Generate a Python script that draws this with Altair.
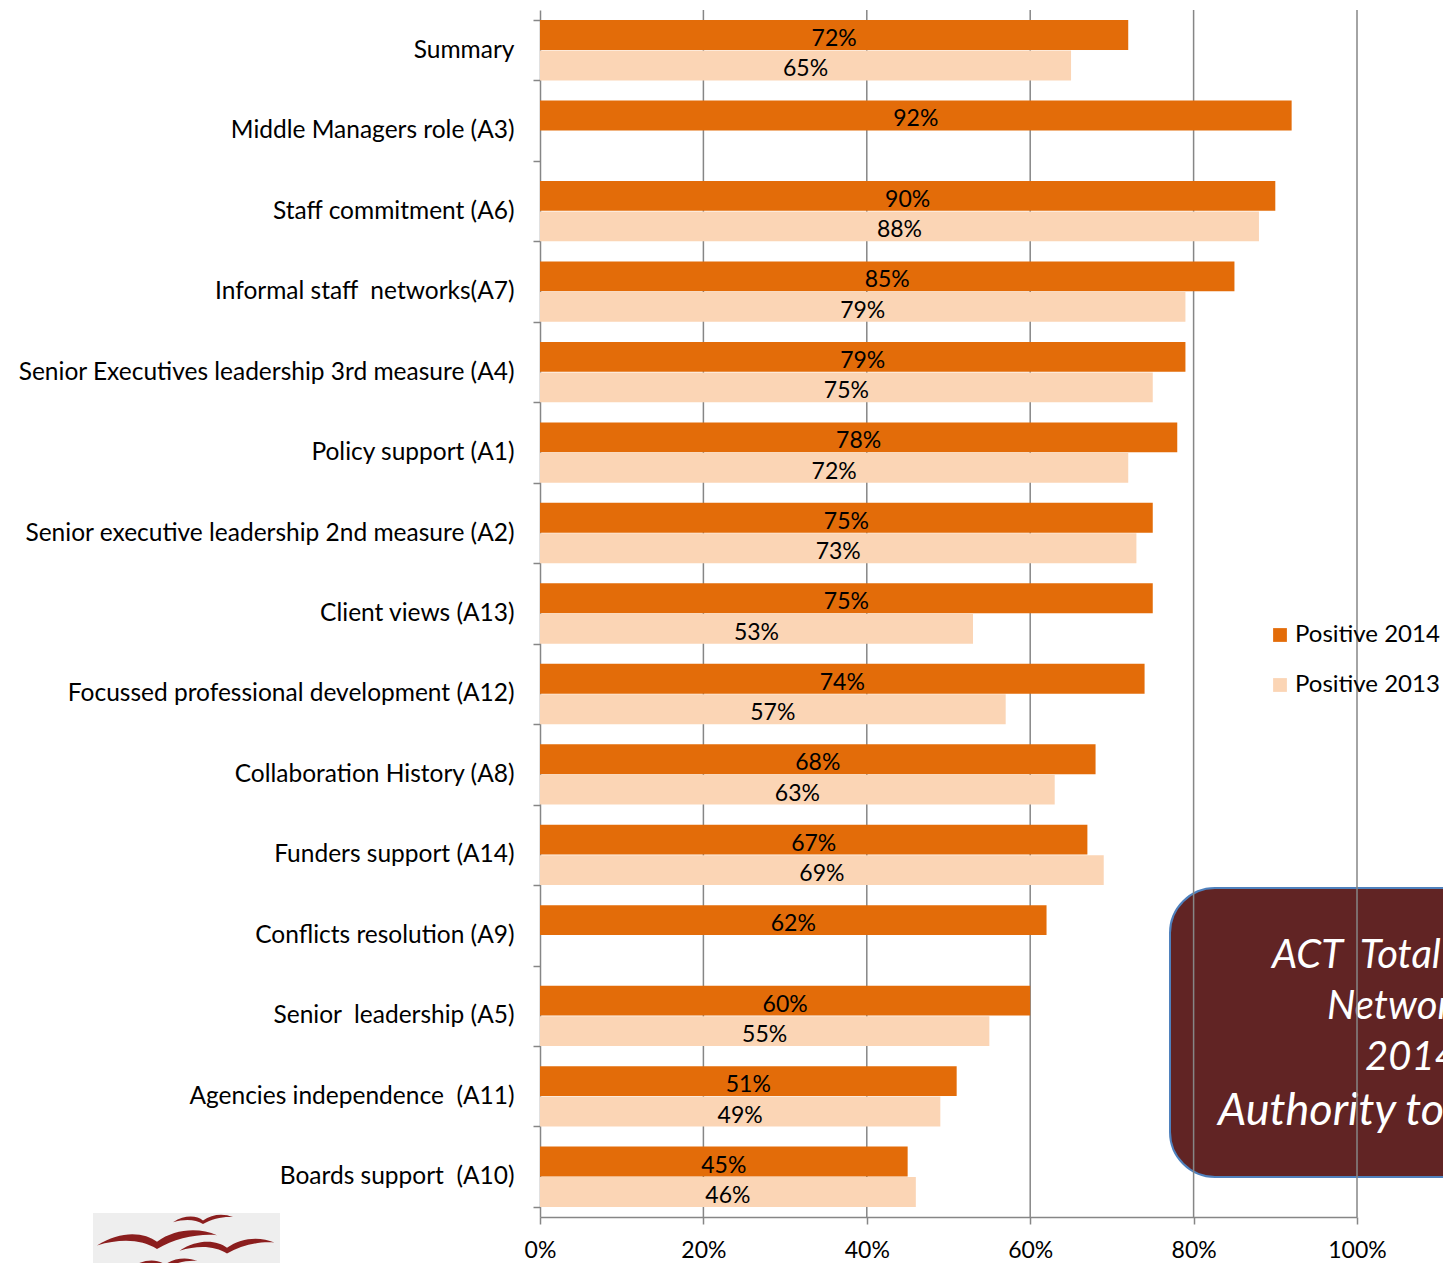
import altair as alt
import pandas as pd

NB = "\u00a0"
categories = [
    "Summary",
    "Middle Managers role (A3)",
    "Staff commitment (A6)",
    "Informal staff " + NB + "networks(A7)",
    "Senior Executives leadership 3rd measure (A4)",
    "Policy support (A1)",
    "Senior executive leadership 2nd measure (A2)",
    "Client views (A13)",
    "Focussed professional development (A12)",
    "Collaboration History (A8)",
    "Funders support (A14)",
    "Conflicts resolution (A9)",
    "Senior " + NB + "leadership (A5)",
    "Agencies independence " + NB + "(A11)",
    "Boards support " + NB + "(A10)",
]
series_names = ["Positive 2014", "Positive 2013"]
pos2014 = [72, 92, 90, 85, 79, 78, 75, 75, 74, 68, 67, 62, 60, 51, 45]
pos2013 = [65, None, 88, 79, 75, 72, 73, 53, 57, 63, 69, None, 55, 49, 46]
x_ticks = [0, 20, 40, 60, 80, 100]
grid_values = [20, 40, 60, 80, 100]
box_lines = ["ACT" + NB + NB + "Total", "Network", "2014", "Authority to"]

rows = []
for c, a, b in zip(categories, pos2014, pos2013):
    if a is not None:
        rows.append({"category": c, "series": series_names[0], "value": a})
    if b is not None:
        rows.append({"category": c, "series": series_names[1], "value": b})
df = pd.DataFrame(rows)
df["label"] = df["value"].astype(int).astype(str) + "%"
df["mid"] = df["value"] / 2

FONT = "Lato"
GRAY = "#868686"
colors = ["#E36C09", "#FBD5B5"]

x_axis = alt.Axis(
    title=None,
    values=x_ticks,
    labelExpr="datum.value + '%'",
    labelFont=FONT,
    labelFontSize=23,
    labelColor="black",
    labelPadding=15,
    labelFlush=False,
    tickSize=7,
    tickColor=GRAY,
    domainColor=GRAY,
    domainWidth=1.5,
    tickWidth=1.5,
    grid=False,
)
y_enc = alt.Y(
    "category:N",
    sort=categories,
    scale=alt.Scale(paddingInner=0.25, paddingOuter=0.125),
    axis=alt.Axis(
        title=None,
        labelFont=FONT,
        labelFontSize=24.5,
        labelColor="black",
        labelLimit=700,
        labelPadding=19,
        tickSize=7,
        tickColor=GRAY,
        domainColor=GRAY,
        domainWidth=1.5,
        tickWidth=1.5,
        tickBand="extent",
        grid=False,
    ),
)
yoff_enc = alt.YOffset("series:N", sort=series_names, scale=alt.Scale(paddingInner=0.02))
x_scale = alt.Scale(domain=[0, 100], nice=False)

one = pd.DataFrame({"k": [0]})

box = alt.Chart(one).mark_rect(
    cornerRadius=45, fill="#612424", stroke="#4F81BD", strokeWidth=2
).encode(x=alt.value(630), x2=alt.value(1000), y=alt.value(878), y2=alt.value(1167))

box_text_layers = []
box_pos = [(732, 958, 40), (787, 1009, 40), (825, 1060, 40), (678, 1115, 45)]
for txt, (px, py, fs) in zip(box_lines, box_pos):
    box_text_layers.append(
        alt.Chart(one).mark_text(
            align="left", baseline="alphabetic", font=FONT, fontStyle="italic",
            fontSize=fs, color="white",
        ).encode(x=alt.value(px), y=alt.value(py), text=alt.value(txt))
    )

grid = alt.Chart(pd.DataFrame({"v": grid_values})).mark_rule(
    color=GRAY, strokeWidth=1.5
).encode(x=alt.X("v:Q", scale=x_scale, axis=x_axis))

bars = alt.Chart(df).mark_bar().encode(
    x=alt.X("value:Q", scale=x_scale, axis=x_axis),
    y=y_enc,
    yOffset=yoff_enc,
    color=alt.Color(
        "series:N",
        sort=series_names,
        scale=alt.Scale(domain=series_names, range=colors),
        legend=alt.Legend(
            title=None,
            orient="none",
            legendX=728,
            legendY=613,
            symbolType="square",
            symbolSize=190,
            symbolStrokeWidth=0,
            labelFont=FONT,
            labelFontSize=24,
            labelColor="black",
            rowPadding=26,
            labelOffset=3,
        ),
    ),
)

labels = alt.Chart(df).mark_text(font=FONT, fontSize=23, color="black", dy=4).encode(
    x=alt.X("mid:Q", scale=x_scale, axis=x_axis),
    y=alt.Y("category:N", sort=categories),
    yOffset=alt.YOffset("series:N", sort=series_names),
    text="label:N",
)

# logo (decorative)
logo_bg = alt.Chart(one).mark_rect(fill="#EEEEEE").encode(
    x=alt.value(-447), x2=alt.value(-260), y=alt.value(1203), y2=alt.value(1260)
)
bird_path = "M-1,0.14 C-0.6,-0.12 -0.2,-0.08 0,0.08 C0.3,-0.14 0.7,-0.16 1,-0.03 C0.7,-0.06 0.3,0.02 0,0.2 C-0.25,0.04 -0.6,0.02 -1,0.14 Z"
birds = []
for bx, by, bs in [(-337, 1208, 60), (-383, 1227, 120), (-313, 1234, 95), (-375, 1252, 65)]:
    birds.append(
        alt.Chart(one).mark_point(
            shape=bird_path, filled=True, color="#8B1E1E", opacity=1, size=bs * bs
        ).encode(x=alt.value(bx), y=alt.value(by))
    )

chart = alt.layer(
    box, *box_text_layers, grid, bars, labels, logo_bg, *birds
).properties(
    width=817,
    height=1207,
    autosize=alt.AutoSizeParams(type="none"),
    padding={"left": 540, "top": 10, "right": 86, "bottom": 46},
).configure_view(stroke=None)

chart.save("out.html", embed_options={"renderer": "svg", "actions": False})
